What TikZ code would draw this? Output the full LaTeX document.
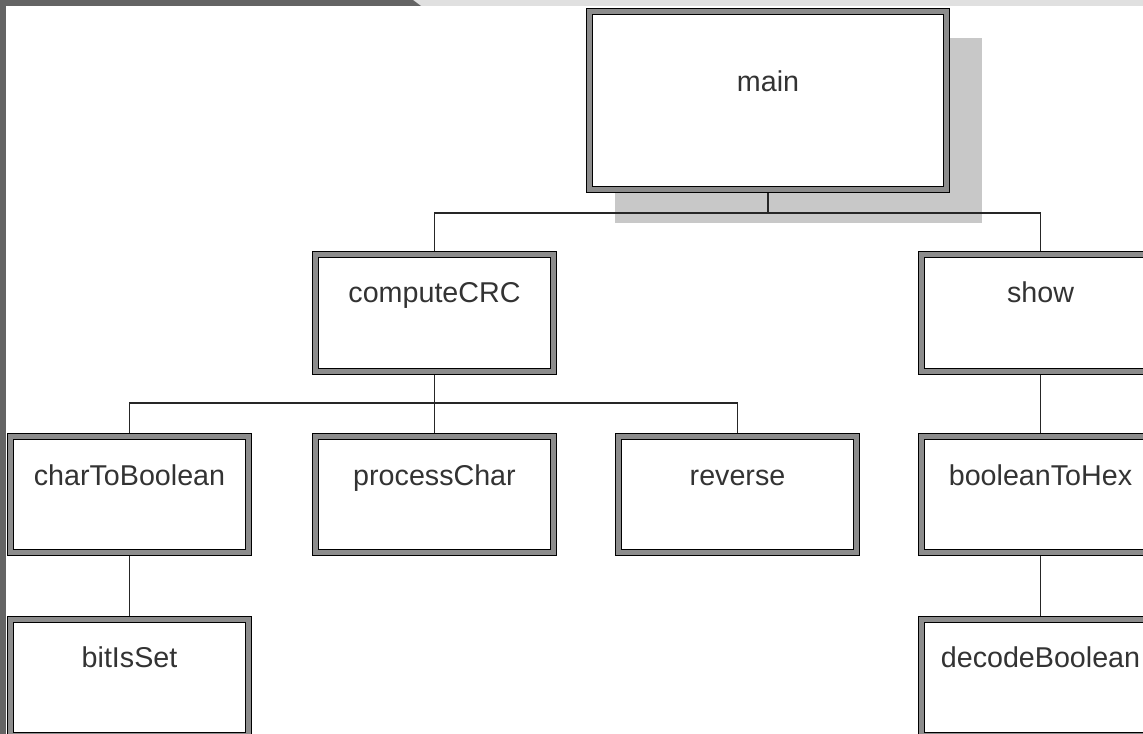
\documentclass[tikz,border=0pt]{standalone}
\usepackage{fontspec}
\setmainfont{Liberation Sans}
\definecolor{framedark}{HTML}{646464}
\definecolor{framelight}{HTML}{E0E0E0}
\definecolor{shadowgrey}{HTML}{C8C8C8}
\definecolor{bandgrey}{HTML}{8C8C8C}
\definecolor{labelgrey}{HTML}{333333}
\tikzset{
  modbox/.style={draw=black, line width=0.9pt, double=bandgrey, double distance=3.75pt,
    fill=white, rectangle, outer sep=2.8pt, inner sep=0pt,
    minimum width=178.2pt, minimum height=86.6pt},
  rowtwo/.style={minimum height=87.4pt},
  modlabel/.style={text=labelgrey, font=\fontsize{21.5}{24}\selectfont, inner sep=0pt, anchor=base},
  link/.style={draw=black!85, line width=1.1pt},
}
\begin{document}
\begin{tikzpicture}[x=0.75pt, y=-0.75pt]
  \useasboundingbox (0,0) rectangle (1143,734);
  \clip (0,0) rectangle (1143,734);
  \fill[white] (0,0) rectangle (1143,734);

  % window frame
  \fill[framelight] (413,0) -- (1143,0) -- (1143,6) -- (421,6) -- cycle;
  \fill[framedark] (0,0) -- (413,0) -- (421,6) -- (0,6) -- cycle;
  \fill[framedark] (0,0) rectangle (6,734);

  % drop shadow of the root box
  \fill[shadowgrey] (615,38) rectangle (982,223);

  % boxes
  \node[modbox, minimum width=267.5pt, minimum height=133.2pt] (main) at (768,100.5) {};
  \node[modbox, rowtwo] (computeCRC) at (434.5,313) {};
  \node[modbox, rowtwo] (show) at (1040.5,313) {};
  \node[modbox] (charToBoolean) at (129.5,494.5) {};
  \node[modbox] (processChar) at (434.5,494.5) {};
  \node[modbox] (reverse) at (737.5,494.5) {};
  \node[modbox] (booleanToHex) at (1040.5,494.5) {};
  \node[modbox] (bitIsSet) at (129.5,677.5) {};
  \node[modbox] (decodeBoolean) at (1040.5,677.5) {};

  % labels (baselines)
  \node[modlabel] (l-main) at (768,92) {main};
  \node[modlabel] (l-computeCRC) at (434.5,303) {computeCRC};
  \node[modlabel] (l-show) at (1040.5,303) {show};
  \node[modlabel] (l-charToBoolean) at (129.5,485) {charToBoolean};
  \node[modlabel] (l-processChar) at (434.5,485) {processChar};
  \node[modlabel] (l-reverse) at (737.5,485) {reverse};
  \node[modlabel] (l-booleanToHex) at (1040.5,485) {booleanToHex};
  \node[modlabel] (l-bitIsSet) at (129.5,667) {bitIsSet};
  \node[modlabel] (l-decodeBoolean) at (1040.5,667) {decodeBoolean};

  % call tree
  \draw[link, line width=2.2pt] (main.south) -- ++(0,20) coordinate (bus1);
  \draw[link] (computeCRC.north) -- ++(0,-38) -| (show.north);
  \draw[link] (processChar.north) -- ++(0,-30) coordinate (bus2);
  \draw[link] (computeCRC.south) -- (bus2);
  \draw[link] (charToBoolean.north) |- (bus2) -| (reverse.north);
  \draw[link] (charToBoolean.south) -- (bitIsSet.north);
  \draw[link] (show.south) -- (booleanToHex.north);
  \draw[link] (booleanToHex.south) -- (decodeBoolean.north);
\end{tikzpicture}
\end{document}
